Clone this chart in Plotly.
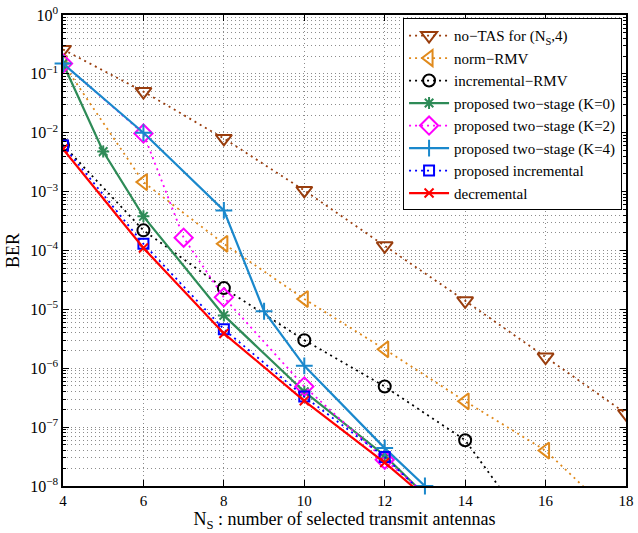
import plotly.graph_objects as go

# ---- data ----
ns_notas = [4, 6, 8, 10, 12, 14, 16, 18]
ber_notas = [0.26, 0.05, 8e-3, 1.05e-3, 1.2e-4, 1.4e-5, 1.55e-6, 1.7e-7]

ns_norm = [4, 6, 8, 10, 12, 14, 16, 18]
ber_norm = [0.15, 1.45e-3, 1.3e-4, 1.5e-5, 2.1e-6, 2.75e-7, 4e-8, 2e-9]

ns_incr = [4, 6, 8, 10, 12, 14, 16]
ber_incr = [6.2e-3, 2.2e-4, 2.3e-5, 3.0e-6, 4.9e-7, 6e-8, 8e-10]

ns_k0 = [4, 5, 6, 8, 10, 12, 14]
ber_k0 = [0.15, 4.8e-3, 3.8e-4, 7.9e-6, 4e-7, 3.3e-8, 1.5e-9]

ns_k2 = [4, 6, 7, 8, 10, 12, 14]
ber_k2 = [0.15, 9.7e-3, 1.65e-4, 1.6e-5, 4.9e-7, 2.8e-8, 2e-9]

ns_k4 = [4, 6, 8, 9, 10, 12, 13]
ber_k4 = [0.15, 1e-2, 4.8e-4, 9.3e-6, 1.1e-6, 4.4e-8, 1e-8]

ns_pinc = [4, 6, 8, 10, 12, 14]
ber_pinc = [6.1e-3, 1.3e-4, 4.6e-6, 3.3e-7, 3.1e-8, 1.6e-9]

ns_dec = [4, 6, 8, 10, 12, 14]
ber_dec = [5.3e-3, 1.1e-4, 3.9e-6, 2.8e-7, 2.5e-8, 1.7e-9]

x_ticks = [4, 6, 8, 10, 12, 14, 16, 18]
y_exps = [0, -1, -2, -3, -4, -5, -6, -7, -8]

FONT = "Liberation Serif, Times New Roman, serif"
DOT = "2px,4px"

fig = go.Figure()

def add(x, y, name, color, symbol, size, dash, width, clip=True, mlw=2):
    fig.add_trace(go.Scatter(
        x=x, y=y, name=name, mode="lines+markers",
        line=dict(color=color, width=width, dash=dash),
        marker=dict(symbol=symbol, size=size, color=color,
                    line=dict(color=color, width=mlw)),
        cliponaxis=clip,
    ))

add(ns_notas, ber_notas, "no\u2212TAS for (N<sub>S</sub>,4)", "#993D0D", "triangle-down-open", 14, DOT, 1.8)
add(ns_norm, ber_norm, "norm\u2212RMV", "#E08A1C", "triangle-left-open", 14, DOT, 1.8)
add(ns_incr, ber_incr, "incremental\u2212RMV", "#000000", "circle-open", 12, DOT, 1.8)
add(ns_k0, ber_k0, "proposed two\u2212stage (K=0)", "#2E8B57", "asterisk-open", 10, "solid", 2.2)
add(ns_k2, ber_k2, "proposed two\u2212stage (K=2)", "#FF00FF", "diamond-open", 14, DOT, 1.8)
add(ns_k4, ber_k4, "proposed two\u2212stage (K=4)", "#1A88CC", "cross-thin-open", 12, "solid", 2.2, clip=False)
add(ns_pinc, ber_pinc, "proposed incremental", "#0000FF", "square-open", 10, DOT, 1.8)
add(ns_dec, ber_dec, "decremental", "#FF0000", "x-thin-open", 9, "solid", 2.2)

minor_vals = [m * 10.0 ** k for k in range(-8, 0) for m in range(2, 10)]

GRID = "rgba(0,0,0,0.45)"

fig.update_layout(
    width=638, height=533,
    margin=dict(l=63, r=4, t=14, b=47),
    paper_bgcolor="white", plot_bgcolor="white",
    font=dict(family=FONT, size=15, color="black"),
    showlegend=True,
    legend=dict(
        x=0.993, y=0.993, xanchor="right", yanchor="top",
        bgcolor="white", bordercolor="black", borderwidth=1,
        font=dict(family=FONT, size=15, color="black"),
        tracegroupgap=0, itemwidth=40,
    ),
    xaxis=dict(
        range=[4, 18], tickvals=x_ticks, ticktext=[str(v) for v in x_ticks],
        showline=True, linecolor="black", linewidth=1.5, mirror="ticks",
        ticks="inside", ticklen=6, tickcolor="black",
        showgrid=True, gridcolor=GRID, griddash="1px,3px", gridwidth=1,
        zeroline=False, ticklabeloverflow="allow",
        tickfont=dict(family=FONT, size=15),
        title=dict(text="N<sub>S</sub> : number of selected transmit antennas",
                   font=dict(family=FONT, size=18), standoff=0),
    ),
    yaxis=dict(
        type="log", range=[-8, 0],
        tickvals=[10.0 ** e for e in y_exps],
        ticktext=["10<sup>%s</sup>" % (str(e) if e >= 0 else "\u2212" + str(-e)) for e in y_exps],
        showline=True, linecolor="black", linewidth=1.5, mirror="ticks",
        ticks="inside", ticklen=6, tickcolor="black",
        showgrid=True, gridcolor=GRID, griddash="1px,3px", gridwidth=1,
        minor=dict(tickvals=minor_vals, ticks="inside", ticklen=3, tickcolor="black",
                   showgrid=True, gridcolor=GRID, griddash="1px,3px", gridwidth=1),
        zeroline=False, ticklabeloverflow="allow",
        tickfont=dict(family=FONT, size=16),
        title=dict(text="BER", font=dict(family=FONT, size=18), standoff=6),
    ),
)

fig.write_html("out.html")
